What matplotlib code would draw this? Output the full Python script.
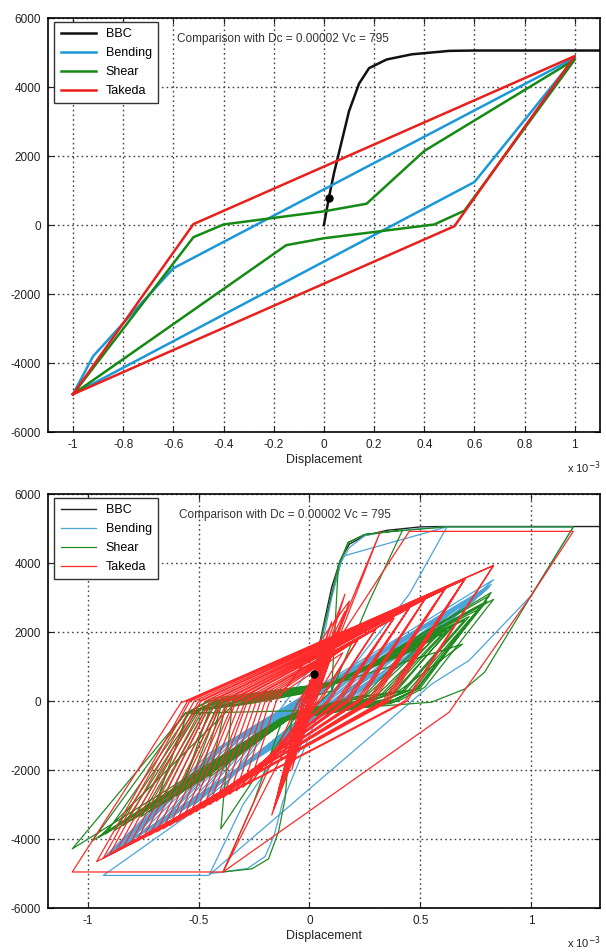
import numpy as np
import matplotlib.pyplot as plt

plt.rcParams['font.family'] = ['Liberation Sans', 'DejaVu Sans']
plt.rcParams['axes.unicode_minus'] = False

# ---- data (displacement in 1e-3, force) ----
# backbone curve (same in both plots)
bbc_x = [0, 0.01, 0.02, 0.04, 0.06, 0.10, 0.14, 0.18, 0.25, 0.35, 0.50, 0.60, 1.31]
bbc_y = [0, 400, 800, 1500, 2100, 3300, 4100, 4550, 4800, 4950, 5050, 5060, 5060]
dot_x = 0.02
dot_y = 800

# top plot: one cycle
bend1_x = [-1.0, 0.60, 1.0, -0.60, -0.92, -1.0]
bend1_y = [-4900, 1250, 4850, -1250, -3800, -4900]
shear1_x = [-1.0, -0.15, 0.0, 0.44, 0.56, 1.0, 0.40, 0.17, 0.0, -0.40, -0.52, -1.0]
shear1_y = [-4900, -580, -380, 20, 420, 4800, 2150, 620, 400, 20, -350, -4900]
takeda1_x = [-1.0, 0.52, 1.0, -0.52, -1.0]
takeda1_y = [-4900, -30, 4900, 30, -4900]

# bottom plot: Takeda
tk_big_x = [0, 0.02, 0.10, -0.01, -0.08, 0.01, 0.16, -0.02, -0.17, 0.02, 0.32, 0.0,
            -0.39, -0.05, 0.45, 1.19, 1.00, 0.63, -0.39, -1.07, -0.58]
tk_big_y = [0, 800, 2300, 0, -2000, 0, 3100, 0, -3300, 0, 4920, 0,
            -4950, 0, 4920, 4920, 3060, -320, -4950, -4950, -50]
tk_px = [0.83, 0.83, 0.70, 0.70, 0.70, 0.70, 0.61, 0.61, 0.61, 0.61, 0.52, 0.52,
         0.52, 0.45, 0.45, 0.45, 0.38, 0.38, 0.38, 0.30, 0.30, 0.22, 0.22, 0.15]
tk_py = [3930, 3930, 3530, 3530, 3530, 3530, 3240, 3240, 3240, 3240, 2950, 2950,
         2950, 2700, 2700, 2700, 2400, 2400, 2400, 2100, 2100, 1800, 1800, 1400]
tk_z1 = [0.44, 0.43, 0.36, 0.35, 0.34, 0.33, 0.29, 0.28, 0.27, 0.26, 0.23, 0.22,
         0.21, 0.18, 0.17, 0.16, 0.14, 0.13, 0.12, 0.09, 0.08, 0.05, 0.04, 0.02]
tk_nx = [-0.96, -0.93, -0.90, -0.87, -0.84, -0.81, -0.78, -0.75, -0.72, -0.69, -0.66, -0.63,
         -0.60, -0.57, -0.54, -0.51, -0.48, -0.45, -0.42, -0.39, -0.36, -0.33, -0.30, -0.27]
tk_ny = [-4650, -4550, -4420, -4330, -4240, -4150, -4060, -3970, -3880, -3790, -3700, -3600,
         -3500, -3400, -3300, -3200, -3100, -3000, -2900, -2800, -2700, -2600, -2500, -2400]
tk_z2 = [-0.55, -0.54, -0.52, -0.50, -0.49, -0.47, -0.45, -0.44, -0.42, -0.40, -0.39, -0.37,
         -0.36, -0.34, -0.33, -0.31, -0.29, -0.28, -0.26, -0.24, -0.22, -0.20, -0.18, -0.15]
tk_late_x = [0.18, 0.03, -0.16, -0.04, 0.16, 0.02, -0.15, -0.03, 0.14, 0.02, -0.14, -0.03,
             0.12, 0.01, -0.13, -0.03, 0.11, 0.01, -0.12, -0.03, 0.09, 0.00, -0.10, -0.03,
             0.07, 0.00, -0.08, -0.02, 0.05, 0.00, -0.06, -0.02, 0.03, -0.01, -0.04, 0.0]
tk_late_y = [2900, 0, -3100, 0, 2600, 0, -2900, 0, 2200, 0, -2600, 0,
             2000, 0, -2400, 0, 1800, 0, -2200, 0, 1500, 0, -1900, 0,
             1200, 0, -1500, 0, 900, 0, -1100, 0, 600, 0, -700, 0]

# bottom plot: Bending
bd_big_x = [0, 0.02, 0.06, 0.10, 0.14, 0.18, 0.25, 0.36, 0.50, 0.62, 0.45, 0.05, -0.12, -0.16,
            -0.20, -0.28, -0.45, -0.30, 0.0, 0.10, 0.15, 0.62, 1.19, 1.00, 0.72, 0.55, -0.455, -0.93]
bd_big_y = [0, 800, 2000, 3100, 4000, 4450, 4800, 4920, 5000, 5050, 3100, -200, -2900, -3900,
            -4500, -4850, -5000, -3000, -200, 3000, 4200, 5050, 5050, 3060, 1180, 490, -5050, -5050]
bd_kux = [0.42, 0.40, 0.39, 0.38, 0.36, 0.34, 0.33, 0.30, 0.28, 0.27, 0.25, 0.22, 0.20, 0.18, 0.16, 0.14]
bd_kuy = [1100, 1000, 980, 950, 900, 870, 850, 800, 760, 750, 700, 650, 620, 600, 550, 500]
bd_px = [0.83, 0.82, 0.81, 0.80, 0.78, 0.76, 0.72, 0.68, 0.66, 0.64, 0.60, 0.55, 0.52, 0.50, 0.45, 0.40]
bd_py = [3520, 3380, 3300, 3250, 3150, 3100, 2900, 2750, 2680, 2600, 2450, 2300, 2200, 2100, 1950, 1800]
bd_kdx = [-0.45, -0.42, -0.41, -0.40, -0.39, -0.38, -0.35, -0.33, -0.32, -0.30, -0.28, -0.25,
          -0.24, -0.22, -0.20, -0.17]
bd_kdy = [-1500, -1400, -1380, -1350, -1320, -1300, -1200, -1150, -1120, -1100, -1000, -950,
          -920, -900, -800, -750]
bd_nx = [-0.93, -0.90, -0.88, -0.86, -0.84, -0.82, -0.78, -0.73, -0.70, -0.68, -0.63, -0.58,
         -0.55, -0.52, -0.46, -0.40]
bd_ny = [-4550, -4400, -4320, -4250, -4180, -4100, -3950, -3800, -3700, -3600, -3400, -3200,
         -3100, -3000, -2800, -2600]
bd_late_x = [0.10, -0.05, 0.08, -0.04, 0.05, -0.02]
bd_late_y = [1800, -1500, 1300, -1100, 800, -500]

# bottom plot: Shear
sh_big_x = [0, 0.02, 0.06, 0.10, 0.13, 0.175, 0.25, 0.36, 0.42, 0.27, 0.10, -0.05, -0.08, -0.11,
            -0.14, -0.185, -0.26, -0.39, -0.25, -0.12, 0.05, 0.10, 0.13, 0.175, 0.25, 0.36, 0.62,
            1.19, 1.00, 0.90, 0.79, 0.70, 0.55, 0.10, -0.20, -0.56]
sh_big_y = [0, 800, 2000, 3100, 3930, 4600, 4830, 4910, 4960, 2900, 300, 0, -400, -2830,
            -3790, -4570, -4860, -4950, -2900, -500, 0, 300, 3930, 4600, 4830, 4910, 5050,
            5050, 3060, 2000, 840, 350, -30, -250, -300, -350]
sh_nx = [-1.07, -0.98, -0.92, -0.88, -0.84, -0.80, -0.76, -0.72, -0.68, -0.64, -0.60, -0.55,
         -0.50, -0.45, -0.40, -0.95, -0.70, -0.58]
sh_ny = [-4280, -4050, -3850, -3750, -3600, -3450, -3350, -3200, -3050, -2900, -2750, -2550,
         -2350, -2200, -3700, -3950, -3100, -2650]
sh_ax = [-0.15, -0.14, -0.13, -0.13, -0.12, -0.11, -0.10, -0.10, -0.09, -0.08, -0.07, -0.06,
         -0.05, -0.05, -0.05, -0.12, -0.09, -0.07]
sh_ay = [-600, -560, -520, -500, -490, -480, -450, -440, -420, -400, -380, -350,
         -330, -300, -330, -550, -430, -380]
sh_bx = [0.40, 0.38, 0.36, 0.35, 0.33, 0.31, 0.30, 0.28, 0.27, 0.25, 0.24, 0.22,
         0.20, 0.18, 0.18, 0.37, 0.28, 0.24]
sh_by = [0, 40, -30, 60, 10, -50, 80, 20, -20, 50, 0, 70, -40, 30, 90, -60, 40, 10]
sh_cx = [0.52, 0.50, 0.48, 0.47, 0.45, 0.43, 0.42, 0.40, 0.38, 0.36, 0.34, 0.31,
         0.28, 0.26, 0.25, 0.49, 0.39, 0.33]
sh_cy = [400, 380, 350, 350, 330, 310, 300, 280, 270, 250, 230, 210, 200, 180, 180, 370, 270, 230]
sh_px = [0.83, 0.82, 0.80, 0.78, 0.76, 0.72, 0.70, 0.69, 0.66, 0.62, 0.60, 0.57,
         0.52, 0.48, 0.45, 0.81, 0.64, 0.55]
sh_py = [2950, 3150, 2900, 2800, 2650, 2450, 2350, 1650, 2250, 2050, 1950, 1850,
         1650, 1500, 1500, 3050, 2150, 1750]
sh_dx = [0.15, 0.14, 0.12, 0.11, 0.10, 0.08, 0.07, 0.06, 0.05, 0.04, 0.04, 0.03,
         0.02, 0.02, 0.02, 0.13, 0.05, 0.03]
sh_dy = [600, 560, 520, 500, 480, 450, 430, 400, 380, 350, 340, 320, 300, 280, 280, 540, 370, 330]
sh_ex = [-0.45, -0.43, -0.41, -0.40, -0.39, -0.37, -0.36, -0.35, -0.33, -0.31, -0.30, -0.29,
         -0.27, -0.25, -0.25, -0.44, -0.34, -0.30]
sh_ey = [0, -40, 50, -20, 70, -60, 20, 100, -30, 40, -80, 60, 0, 30, -50, 80, -10, 50]
sh_fx = [-0.56, -0.54, -0.52, -0.51, -0.50, -0.48, -0.47, -0.46, -0.44, -0.42, -0.41, -0.40,
         -0.38, -0.35, -0.35, -0.55, -0.45, -0.41]
sh_fy = [-350, -330, -300, -300, -280, -260, -250, -240, -220, -200, -190, -180,
         -160, -150, -150, -340, -230, -190]

labels = ['BBC', 'Bending', 'Shear', 'Takeda']
title_txt = 'Comparison with Dc = 0.00002 Vc = 795'


# join the cycle points into one path
def takeda_path():
    xs, ys = list(tk_big_x), list(tk_big_y)
    for i in range(len(tk_px)):
        xs += [tk_px[i], tk_z1[i], tk_nx[i], tk_z2[i]]
        ys += [tk_py[i], 0, tk_ny[i], 0]
    return xs + tk_late_x, ys + tk_late_y


def bending_path():
    xs, ys = list(bd_big_x), list(bd_big_y)
    for i in range(len(bd_px)):
        xs += [bd_kux[i], bd_px[i], bd_kdx[i], bd_nx[i]]
        ys += [bd_kuy[i], bd_py[i], bd_kdy[i], bd_ny[i]]
    return xs + bd_late_x, ys + bd_late_y


def shear_path():
    xs, ys = list(sh_big_x), list(sh_big_y)
    for i in range(len(sh_px)):
        xs += [sh_nx[i], sh_ax[i], sh_bx[i], sh_cx[i], sh_px[i], sh_dx[i], sh_ex[i], sh_fx[i]]
        ys += [sh_ny[i], sh_ay[i], sh_by[i], sh_cy[i], sh_py[i], sh_dy[i], sh_ey[i], sh_fy[i]]
    return xs, ys


def style_axes(ax, xlim, xticks, xlabels, tx):
    ax.set_xlim(*xlim)
    ax.set_ylim(-6000, 6000)
    ax.set_xticks(xticks)
    ax.set_xticklabels(xlabels)
    ax.set_yticks([-6000, -4000, -2000, 0, 2000, 4000, 6000])
    ax.grid(True, linestyle=(0, (1.2, 2.2)), color='#444444', linewidth=1.0)
    ax.tick_params(direction='in', top=True, right=True, length=4, labelsize=8.5,
                   colors='#222222', pad=5)
    for s in ax.spines.values():
        s.set_linewidth(1.2)
    ax.set_xlabel('Displacement', fontsize=9, labelpad=2, color='#222222')
    ax.text(tx, 5300, title_txt, fontsize=8.5, color='#333333')


fig = plt.figure(figsize=(6.06, 9.52), dpi=100)
ax1 = fig.add_axes([0.079, 0.546, 0.911, 0.435])
ax2 = fig.add_axes([0.079, 0.046, 0.911, 0.435])

# top
h0, = ax1.plot(bbc_x, bbc_y, color='#111111', lw=1.8)
h1, = ax1.plot(bend1_x, bend1_y, color='#1b98d8', lw=1.8)
h2, = ax1.plot(shear1_x, shear1_y, color='#148a14', lw=1.8)
h3, = ax1.plot(takeda1_x, takeda1_y, color='#e8201c', lw=1.8)
ax1.plot(dot_x, dot_y, 'o', color='black', ms=5)
style_axes(ax1, (-1.1, 1.1), np.round(np.arange(-1, 1.01, 0.2), 1),
           ['-1', '-0.8', '-0.6', '-0.4', '-0.2', '0', '0.2', '0.4', '0.6', '0.8', '1'], -0.587)
ax1.legend([h0, h1, h2, h3], labels, loc='upper left', bbox_to_anchor=(0.012, 0.99),
           borderaxespad=0, fancybox=False, framealpha=1, edgecolor='#333333',
           fontsize=9, handlelength=2.8, labelspacing=0.55, borderpad=0.5)

# bottom
bx, by = bending_path()
sx, sy = shear_path()
tx, ty = takeda_path()
g0, = ax2.plot(bbc_x, bbc_y, color='#222222', lw=1.0)
g1, = ax2.plot(bx, by, color='#4aa6da', lw=0.9)
g2, = ax2.plot(sx, sy, color='#218a21', lw=0.9)
g3, = ax2.plot(tx, ty, color='#ff2a2a', lw=0.9)
ax2.plot(dot_x, dot_y, 'o', color='black', ms=5)
style_axes(ax2, (-1.18, 1.31), [-1, -0.5, 0, 0.5, 1], ['-1', '-0.5', '0', '0.5', '1'], -0.59)
ax2.legend([g0, g1, g2, g3], labels, loc='upper left', bbox_to_anchor=(0.012, 0.99),
           borderaxespad=0, fancybox=False, framealpha=1, edgecolor='#333333',
           fontsize=9, handlelength=2.8, labelspacing=0.55, borderpad=0.5)

fig.text(0.992, 1 - 468 / 952, r'x 10$^{-3}$', fontsize=8, color='#222222', ha='right', va='center')
fig.text(0.992, 1 - 943 / 952, r'x 10$^{-3}$', fontsize=8, color='#222222', ha='right', va='center')

fig.savefig('out.png', dpi=100)
